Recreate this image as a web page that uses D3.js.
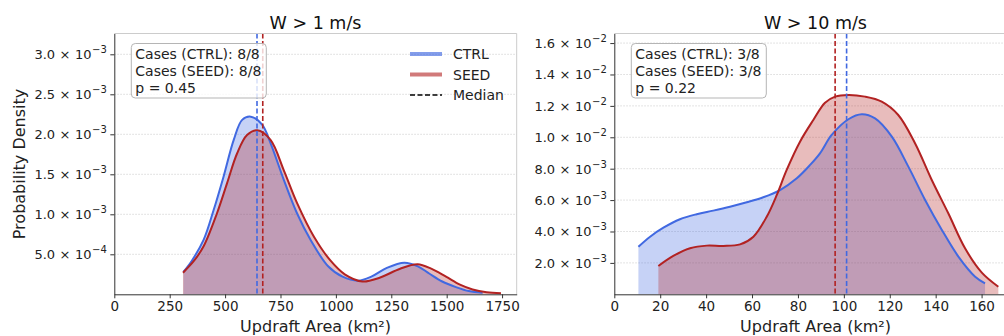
<!DOCTYPE html>
<html lang="en">
<head>
<meta charset="UTF-8">
<title>Updraft Area KDE</title>
<script src="https://d3js.org/d3.v7.min.js"></script>
<style>
  body { margin: 0; background: #fff; }
  svg { font-family: "DejaVu Sans", sans-serif; display: block; }
</style>
</head>
<body>
<div id="chart"></div>
<script>
// ---- W > 1 m/s ----
const weakCtrlArea = [312, 350, 403, 448, 493, 539, 577, 616, 667, 705, 765, 825, 886, 965, 1030, 1100, 1160, 1230, 1309, 1370, 1421, 1480, 1542, 1600, 1662];
const weakCtrlDens = [0.00028, 0.00042, 0.00068, 0.00105, 0.00147, 0.00193, 0.00218, 0.00222, 0.00212, 0.00189, 0.00143, 0.00101, 0.00068, 0.00035, 0.00022, 0.00017, 0.00022, 0.00033, 0.000395, 0.00035, 0.00026, 0.00016, 0.00009, 0.00004, 0.00002];
const weakSeedArea = [310, 360, 403, 463, 509, 554, 599, 645, 705, 765, 825, 901, 976, 1040, 1120, 1200, 1290, 1369, 1430, 1497, 1560, 1617, 1680, 1745];
const weakSeedDens = [0.00027, 0.00042, 0.0006, 0.00101, 0.00139, 0.00176, 0.00199, 0.00205, 0.00193, 0.00155, 0.00114, 0.00072, 0.00042, 0.00025, 0.00016, 0.00021, 0.00032, 0.000375, 0.00032, 0.00022, 0.00012, 0.00006, 0.000025, 0.000012];
const weakMedians = [644, 670];           // CTRL, SEED
const weakCases = ["8/8", "8/8"];
const weakP = "0.45";

// ---- W > 10 m/s ----
const strongCtrlArea = [10.5, 15.6, 21.4, 28.6, 35.9, 43.1, 50.4, 57.7, 64.9, 72.2, 79.5, 85.3, 89.6, 94.7, 102.0, 107.8, 113.6, 120.9, 128.1, 135.4, 142.7, 149.9, 157.2, 161.5];
const strongCtrlDens = [0.00303, 0.00367, 0.00424, 0.00478, 0.0051, 0.00533, 0.00558, 0.00586, 0.00618, 0.00664, 0.00739, 0.00824, 0.00898, 0.01015, 0.01115, 0.01147, 0.0112, 0.01004, 0.00813, 0.00601, 0.0041, 0.0024, 0.00112, 0.0007];
const strongSeedArea = [19.2, 25.7, 33.0, 40.3, 47.5, 54.8, 60.6, 66.4, 70.8, 75.1, 80.9, 86.7, 91.8, 96.2, 102.0, 109.2, 116.5, 123.7, 131.0, 138.3, 145.5, 152.8, 160.1, 167.3];
const strongSeedDens = [0.0018, 0.00244, 0.00293, 0.0031, 0.00308, 0.00318, 0.00367, 0.00494, 0.00633, 0.00792, 0.00972, 0.0111, 0.0122, 0.01259, 0.0127, 0.01259, 0.01227, 0.01142, 0.00962, 0.00728, 0.00516, 0.00293, 0.00138, 0.00048];
const strongMedians = [101.2, 96.2];
const strongCases = ["3/8", "3/8"];
const strongP = "0.22";

// ticks
const weakXTicks = [0, 250, 500, 750, 1000, 1250, 1500, 1750];
const weakYTicks = [0.0005, 0.001, 0.0015, 0.002, 0.0025, 0.003];
const strongXTicks = [0, 20, 40, 60, 80, 100, 120, 140, 160];
const strongYTicks = [0.002, 0.004, 0.006, 0.008, 0.01, 0.012, 0.014, 0.016];

const ctrlColor = "#4169E1";
const seedColor = "#B22222";

const svg = d3.select("#chart").append("svg")
    .attr("width", 1004)
    .attr("height", 336);

function sciLabel(v) {
    const exp = Math.floor(Math.log10(v) + 1e-9);
    const man = v / Math.pow(10, exp);
    return [man.toFixed(1), "\u2212" + Math.abs(exp)];
}

function drawPanel(cfg) {
    const x = d3.scaleLinear().domain(cfg.xDomain).range([cfg.left, cfg.left + 402.4]);
    const y = d3.scaleLinear().domain(cfg.yDomain).range([294.3, 33.5]);
    const top = y.range()[1], bottom = y.range()[0];
    const g = svg.append("g");

    // grid
    g.selectAll("line.grid")
        .data(cfg.yTicks)
        .join("line")
        .attr("class", "grid")
        .attr("x1", x.range()[0]).attr("x2", x.range()[1])
        .attr("y1", d => y(d)).attr("y2", d => y(d))
        .attr("stroke", "#dadada")
        .attr("stroke-width", 1)
        .attr("stroke-dasharray", "1.5,1.5");

    const series = [
        { xs: cfg.ctrlX, ys: cfg.ctrlY, color: ctrlColor },
        { xs: cfg.seedX, ys: cfg.seedY, color: seedColor }
    ];
    const area = d3.area()
        .x(d => x(d[0])).y0(y(0)).y1(d => y(d[1]))
        .curve(d3.curveCatmullRom.alpha(0.5));
    const line = d3.line()
        .x(d => x(d[0])).y(d => y(d[1]))
        .curve(d3.curveCatmullRom.alpha(0.5));

    series.forEach(s => {
        g.append("path")
            .datum(d3.zip(s.xs, s.ys))
            .attr("d", area)
            .attr("fill", s.color)
            .attr("fill-opacity", 0.3);
    });
    series.forEach(s => {
        g.append("path")
            .datum(d3.zip(s.xs, s.ys))
            .attr("d", line)
            .attr("fill", "none")
            .attr("stroke", s.color)
            .attr("stroke-width", 2);
    });

    // medians
    [ctrlColor, seedColor].forEach((c, i) => {
        g.append("line")
            .attr("x1", x(cfg.medians[i])).attr("x2", x(cfg.medians[i]))
            .attr("y1", top).attr("y2", bottom)
            .attr("stroke", c)
            .attr("stroke-width", 1.6)
            .attr("stroke-dasharray", "5,2.5");
    });

    // spines
    g.append("line").attr("x1", x.range()[0]).attr("x2", x.range()[1]).attr("y1", top).attr("y2", top)
        .attr("stroke", "#cccccc");
    g.append("line").attr("x1", x.range()[1]).attr("x2", x.range()[1]).attr("y1", top).attr("y2", bottom)
        .attr("stroke", "#cccccc");

    // axes
    const xAxis = g.append("g")
        .attr("transform", `translate(0,${bottom})`)
        .call(d3.axisBottom(x).tickValues(cfg.xTicks).tickFormat(d3.format("d"))
            .tickSize(4).tickSizeOuter(0).tickPadding(3));
    xAxis.selectAll("text").style("font-size", "13.5px").attr("fill", "#222");

    const yAxis = g.append("g")
        .attr("transform", `translate(${cfg.left},0)`)
        .call(d3.axisLeft(y).tickValues(cfg.yTicks).tickSize(4).tickSizeOuter(0).tickFormat(() => ""));
    yAxis.selectAll(".tick text").remove();
    [xAxis, yAxis].forEach(a => {
        a.attr("font-family", null).attr("font-size", null);
        a.select(".domain").attr("stroke", "#333");
        a.selectAll(".tick line").attr("stroke", "#333");
    });

    // y tick labels in matplotlib mathtext style
    const yl = g.selectAll("text.ylab")
        .data(cfg.yTicks)
        .join("text")
        .attr("class", "ylab")
        .attr("text-anchor", "end")
        .attr("x", cfg.left - 7.5)
        .attr("y", d => y(d) + 5)
        .attr("fill", "#222")
        .style("font-size", "13px");
    yl.append("tspan").text(d => sciLabel(d)[0]);
    yl.append("tspan").attr("dx", 4.5).text("\u00d7");
    yl.append("tspan").attr("dx", 4.5).text("10");
    yl.append("tspan").attr("dx", 0.5).attr("dy", -6).style("font-size", "10px").text(d => sciLabel(d)[1]);

    // title
    svg.append("text")
        .attr("x", (x.range()[0] + x.range()[1]) / 2)
        .attr("y", 28.5)
        .attr("text-anchor", "middle")
        .style("font-size", "17.5px")
        .attr("fill", "#111")
        .text(cfg.title);

    svg.append("text")
        .attr("x", (x.range()[0] + x.range()[1]) / 2)
        .attr("y", 332)
        .attr("text-anchor", "middle")
        .style("font-size", "16px")
        .attr("fill", "#222")
        .text("Updraft Area (km\u00b2)");

    // stats box
    const bx = cfg.left + 17, by = 43.5;
    g.append("rect")
        .attr("x", bx).attr("y", by)
        .attr("width", 135).attr("height", 54.5)
        .attr("rx", 4)
        .attr("fill", "#fff").attr("fill-opacity", 0.8)
        .attr("stroke", "#b5b5b5");
    const lines = [`Cases (CTRL): ${cfg.cases[0]}`, `Cases (SEED): ${cfg.cases[1]}`, `p = ${cfg.p}`];
    g.selectAll("text.stat")
        .data(lines)
        .join("text")
        .attr("class", "stat")
        .attr("x", bx + 4)
        .attr("y", (d, i) => by + 15.5 + i * 17)
        .style("font-size", "14px")
        .attr("fill", "#222")
        .text(d => d);

    return { x, y, g };
}

const left = drawPanel({
    left: 114.3, xDomain: [0, 1816], yDomain: [0, 0.00326],
    xTicks: weakXTicks, yTicks: weakYTicks,
    ctrlX: weakCtrlArea, ctrlY: weakCtrlDens, seedX: weakSeedArea, seedY: weakSeedDens,
    medians: weakMedians, cases: weakCases, p: weakP, title: "W > 1 m/s"
});

drawPanel({
    left: 614.3, xDomain: [0, 175.3], yDomain: [0, 0.01661],
    xTicks: strongXTicks, yTicks: strongYTicks,
    ctrlX: strongCtrlArea, ctrlY: strongCtrlDens, seedX: strongSeedArea, seedY: strongSeedDens,
    medians: strongMedians, cases: strongCases, p: strongP, title: "W > 10 m/s"
});

// y label
svg.append("text")
    .attr("transform", "translate(25,164) rotate(-90)")
    .attr("text-anchor", "middle")
    .style("font-size", "16px")
    .attr("fill", "#222")
    .text("Probability Density");

// legend (left panel)
const legendItems = [
    { label: "CTRL", color: ctrlColor, opacity: 0.65, width: 4, dash: null },
    { label: "SEED", color: seedColor, opacity: 0.6, width: 4, dash: null },
    { label: "Median", color: "#000", opacity: 1, width: 1.6, dash: "5,2.5" }
];
const legend = left.g.selectAll("g.legend")
    .data(legendItems)
    .join("g")
    .attr("class", "legend")
    .attr("transform", (d, i) => `translate(410,${54 + i * 20.5})`);
legend.append("line")
    .attr("x1", 0).attr("x2", 32)
    .attr("stroke", d => d.color)
    .attr("stroke-opacity", d => d.opacity)
    .attr("stroke-width", d => d.width)
    .attr("stroke-dasharray", d => d.dash);
legend.append("text")
    .attr("x", 43)
    .attr("y", 5)
    .style("font-size", "14px")
    .attr("fill", "#222")
    .text(d => d.label);
</script>
</body>
</html>
